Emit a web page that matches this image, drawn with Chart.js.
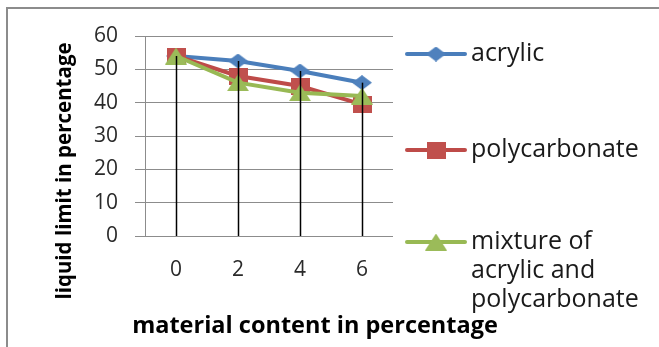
<!DOCTYPE html>
<html>
<head>
<meta charset="utf-8">
<script src="https://cdn.jsdelivr.net/npm/chart.js@4"></script>
<style>
  html, body { margin: 0; padding: 0; background: #fff; }
  #wrap { position: relative; width: 659px; height: 347px; overflow: hidden; }
  #frame { position: absolute; left: 6px; top: 7px; right: -10px; bottom: -10px;
           border-top: 2px solid #8c8c8c; border-left: 2px solid #8c8c8c; }
  canvas { position: absolute; left: 0; top: 0; }
</style>
</head>
<body>
<div id="wrap">
  <div id="frame"></div>
  <canvas id="c" width="659" height="347"></canvas>
</div>
<script>
// material content (%) on the x axis
const categories = ['0', '2', '4', '6'];

// liquid limit (%) per series
const acrylic       = [54, 52.5, 49.5, 46];
const polycarbonate = [54, 48, 45, 39.5];
const mixture       = [54, 46, 43, 42];

const seriesNames = ['acrylic', 'polycarbonate', 'mixture of acrylic and polycarbonate'];
const legendLines = [['acrylic'], ['polycarbonate'], ['mixture of', 'acrylic and', 'polycarbonate']];

const yTickValues = [0, 10, 20, 30, 40, 50, 60];

const xTitle = 'material content in percentage';
const yTitle = 'liquid limit in percentage';

// marker glyphs, slightly wider than tall
function marker(shape, w, h, color) {
  const c = document.createElement('canvas');
  c.width = w; c.height = h;
  const g = c.getContext('2d');
  g.fillStyle = color;
  g.beginPath();
  if (shape === 'diamond') {
    g.moveTo(w / 2, 0); g.lineTo(w, h / 2); g.lineTo(w / 2, h); g.lineTo(0, h / 2);
  } else if (shape === 'square') {
    g.rect(0, 0, w, h);
  } else {
    g.moveTo(w / 2, 0); g.lineTo(w, h); g.lineTo(0, h);
  }
  g.closePath();
  g.fill();
  return c;
}

const blue = '#4a7ebb', red = '#be4b48', green = '#98b954';
const markers = [
  marker('diamond', 20, 15, '#4f81bd'),
  marker('square', 19, 17, '#c0504d'),
  marker('triangle', 22, 17, '#9bbb59')
];

// vertical drop lines from the highest point of each category down to zero
const dropLines = {
  id: 'dropLines',
  afterDatasetsDraw(chart) {
    const { ctx, scales: { x, y } } = chart;
    ctx.save();
    ctx.strokeStyle = '#000';
    ctx.lineWidth = 1.5;
    categories.forEach((c, i) => {
      const top = Math.max(...chart.data.datasets.map(d => d.data[i]));
      const px = Math.round(x.getPixelForValue(i)) + 0.5;
      ctx.beginPath();
      ctx.moveTo(px, y.getPixelForValue(top));
      ctx.lineTo(px, y.getPixelForValue(0));
      ctx.stroke();
    });
    ctx.restore();
  }
};

// axis titles and the legend at the right
const decorations = {
  id: 'decorations',
  afterDraw(chart) {
    const { ctx } = chart;
    ctx.save();
    ctx.fillStyle = '#000';
    ctx.textAlign = 'center';
    ctx.textBaseline = 'middle';

    ctx.font = 'bold 23.5px "Open Sans"';
    ctx.fillText(xTitle, 315, 326);

    ctx.save();
    ctx.translate(65, 171);
    ctx.rotate(-Math.PI / 2);
    ctx.font = 'bold 20.5px "Open Sans"';
    ctx.fillText(yTitle, 0, 0);
    ctx.restore();

    const rowY = [54, 150, 242];
    ctx.textAlign = 'left';
    ctx.font = '25px "Open Sans"';
    chart.data.datasets.forEach((d, i) => {
      const yy = rowY[i];
      ctx.strokeStyle = d.borderColor;
      ctx.lineWidth = 4;
      ctx.lineCap = 'round';
      ctx.beginPath();
      ctx.moveTo(407, yy);
      ctx.lineTo(465, yy);
      ctx.stroke();
      const m = d.pointStyle;
      ctx.drawImage(m, 436 - m.width / 2, yy - m.height / 2);
      ctx.fillStyle = '#1a1a1a';
      legendLines[i].forEach((t, k) => ctx.fillText(t, 471, yy + k * 29));
    });
    ctx.restore();
  }
};

const seriesData = [acrylic, polycarbonate, mixture];
const colors = [blue, red, green];

new Chart(document.getElementById('c'), {
  type: 'line',
  data: {
    labels: categories,
    datasets: seriesData.map((vals, i) => ({
      label: seriesNames[i],
      data: vals,
      borderColor: colors[i],
      backgroundColor: colors[i],
      borderWidth: 4,
      pointStyle: markers[i],
      pointRadius: 10,
      tension: 0,
      order: 3 - i
    }))
  },
  options: {
    responsive: false,
    animation: false,
    devicePixelRatio: 1,
    layout: { padding: { top: 36, right: 266, bottom: 0, left: 0 } },
    plugins: { legend: { display: false }, tooltip: { enabled: false } },
    scales: {
      x: {
        type: 'category',
        offset: true,
        grid: { display: false },
        border: { display: false },
        ticks: { color: '#2a2a2a', font: { family: 'Open Sans', size: 21 }, padding: 13 },
        afterFit(s) { s.height = 111; }
      },
      y: {
        min: 0,
        max: 60,
        afterBuildTicks(s) { s.ticks = yTickValues.map(v => ({ value: v })); },
        grid: { color: '#8c8c8c', lineWidth: 1, tickLength: 10 },
        border: { display: true, color: '#8c8c8c', width: 1 },
        ticks: { color: '#2a2a2a', font: { family: 'Open Sans', size: 21 }, padding: 17 },
        afterFit(s) { s.width = 145; }
      }
    }
  },
  plugins: [dropLines, decorations]
});
</script>
</body>
</html>
